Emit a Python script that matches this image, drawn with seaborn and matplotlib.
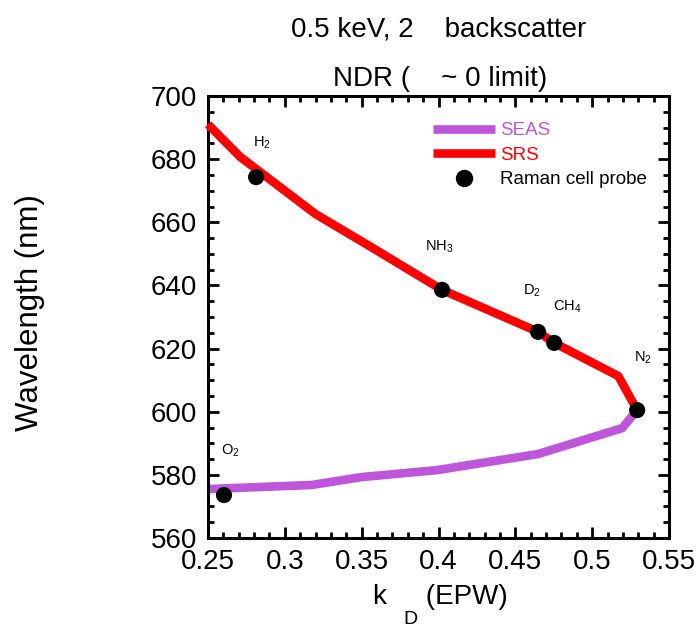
import matplotlib
matplotlib.use("Agg")
import matplotlib.pyplot as plt
from matplotlib.lines import Line2D
from matplotlib.ticker import MultipleLocator
import seaborn as sns
import pandas as pd

# SRS branch: k*lambda_D of the electron plasma wave vs scattered wavelength
srs_k = [0.250, 0.271, 0.320, 0.355, 0.4023, 0.4648, 0.4753, 0.517, 0.5293]
srs_wl = [691.0, 680.7, 662.6, 652.5, 638.6, 625.3, 621.8, 611.3, 600.5]

# SEAS branch
seas_k = [0.5293, 0.5195, 0.4648, 0.399, 0.350, 0.3177, 0.250]
seas_wl = [600.5, 594.8, 586.6, 581.5, 579.3, 576.8, 575.5]

# Raman cell probe lines
probe_names = ["H$_2$", "NH$_3$", "D$_2$", "CH$_4$", "N$_2$", "O$_2$"]
probe_k = [0.2813, 0.4023, 0.4648, 0.4753, 0.5293, 0.2604]
probe_wl = [674.3, 638.6, 625.3, 621.8, 600.5, 573.6]
# label offsets (points) from each probe marker
probe_dx = [-2, -12, -11, -1, -2, -2]
probe_dy = [22, 28, 27, 23, 35, 29]

x_ticks = [0.25, 0.3, 0.35, 0.4, 0.45, 0.5, 0.55]
x_tick_labels = ["0.25", "0.3", "0.35", "0.4", "0.45", "0.5", "0.55"]
y_ticks = [560, 580, 600, 620, 640, 660, 680, 700]

SEAS_COLOR = "#BE55DA"
SRS_COLOR = "#FF0000"

sns.set_theme(style="white")
plt.rcParams["font.family"] = ["Liberation Sans", "DejaVu Sans"]
plt.rcParams["mathtext.fontset"] = "custom"
plt.rcParams["mathtext.rm"] = "Liberation Sans"
plt.rcParams["mathtext.it"] = "Liberation Sans"
plt.rcParams["mathtext.default"] = "regular"
plt.rcParams["text.color"] = "black"
plt.rcParams["axes.labelcolor"] = "black"
plt.rcParams["xtick.color"] = "black"
plt.rcParams["ytick.color"] = "black"

fig = plt.figure(figsize=(6.96, 6.29), dpi=100)
ax = fig.add_axes([208 / 696, 1 - 538 / 629, (669 - 208) / 696, (538 - 96) / 629])

srs_df = pd.DataFrame({"k": srs_k, "wl": srs_wl})
seas_df = pd.DataFrame({"k": seas_k, "wl": seas_wl})
probe_df = pd.DataFrame({"k": probe_k, "wl": probe_wl, "name": probe_names})

LW = 6.2
sns.lineplot(data=seas_df, x="k", y="wl", sort=False, color=SEAS_COLOR,
             lw=LW, ax=ax, clip_on=False, solid_capstyle="butt", zorder=2)
sns.lineplot(data=srs_df, x="k", y="wl", sort=False, color=SRS_COLOR,
             lw=LW, ax=ax, clip_on=False, solid_capstyle="butt", zorder=3)
sns.scatterplot(data=probe_df, x="k", y="wl", color="black", s=135,
                edgecolor="none", ax=ax, zorder=4, clip_on=False)

for name, k, wl, dx, dy in zip(probe_names, probe_k, probe_wl, probe_dx, probe_dy):
    ax.annotate(name, (k, wl), xytext=(dx, dy), textcoords="offset points",
                ha="left", va="baseline", fontsize=10.5, color="black")

ax.set_xlim(0.25, 0.55)
ax.set_ylim(560, 700)
ax.set_xticks(x_ticks)
ax.set_xticklabels(x_tick_labels)
ax.set_yticks(y_ticks)
ax.xaxis.set_minor_locator(MultipleLocator(0.01))
ax.yaxis.set_minor_locator(MultipleLocator(5))
ax.tick_params(which="both", direction="in", top=True, right=True,
               bottom=True, left=True, width=2.0, color="black")
ax.tick_params(which="major", length=8, labelsize=20, pad=8)
ax.tick_params(which="minor", length=4.5)
for sp in ax.spines.values():
    sp.set_linewidth(2.2)
    sp.set_color("black")

ax.set_ylabel("Wavelength (nm)", fontsize=22.5)
ax.yaxis.set_label_coords(-0.353, 0.51)
ax.set_xlabel("k     (EPW)", fontsize=20)
ax.xaxis.set_label_coords(0.504, -0.104)
fig.text(403 / 696, 0.002, "D", fontsize=14, ha="left", va="bottom")

fig.text(0.630, 1 - 37 / 629, "0.5 keV, 2    backscatter", fontsize=20,
         ha="center", va="baseline")
fig.text(0.632, 1 - 86 / 629, "NDR (    ~ 0 limit)", fontsize=20,
         ha="center", va="baseline")

handles = [
    Line2D([], [], color=SEAS_COLOR, lw=LW, solid_capstyle="butt"),
    Line2D([], [], color=SRS_COLOR, lw=LW, solid_capstyle="butt"),
    Line2D([], [], color="black", lw=0, marker="o", markersize=11.5),
]
leg = ax.legend(handles, ["SEAS", "SRS", "Raman cell probe"],
                loc="upper left", bbox_to_anchor=((433 - 208) / 461, (538 - 122) / 442),
                frameon=False, fontsize=13.5, handlelength=3.3, handletextpad=0.3,
                labelspacing=0.4, borderpad=0, borderaxespad=0,
                labelcolor=[SEAS_COLOR, SRS_COLOR, "black"])

fig.savefig("out.png", dpi=100)
